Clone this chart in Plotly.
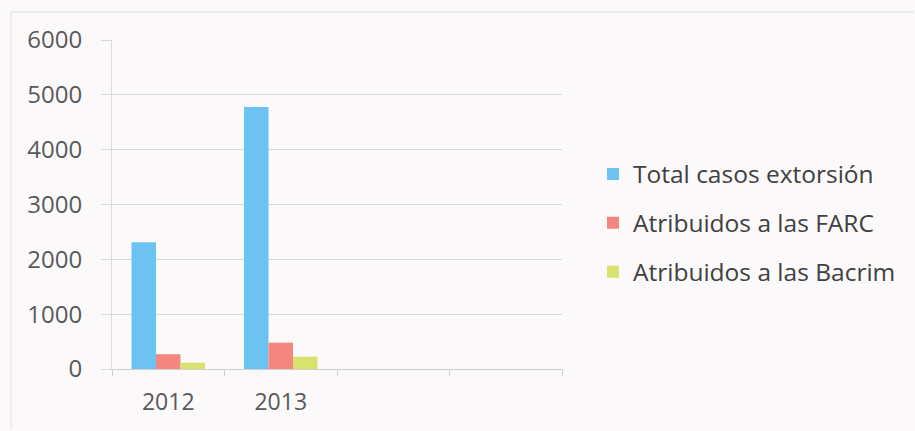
import plotly.graph_objects as go

categories = ["2012", "2013", " ", "  "]
series_names = ["Total casos extorsión", "Atribuidos a las FARC", "Atribuidos a las Bacrim"]
total = [2310, 4780, None, None]
farc = [270, 480, None, None]
bacrim = [115, 225, None, None]
colors = ["#6cc3f2", "#f3877f", "#d9e26e"]
y_ticks = [0, 1000, 2000, 3000, 4000, 5000, 6000]

FONT = "Open Sans"
W, H = 915, 431
L, R, T, B = 112, 353, 40, 62
pw, ph = W - L - R, H - T - B

fig = go.Figure()
for name, vals, col in zip(series_names, [total, farc, bacrim], colors):
    fig.add_trace(go.Bar(x=categories, y=vals, name=name, marker=dict(color=col, line=dict(width=0)),
                         legendgroup=name))

def px_x(p):
    return (p - L) / pw

def px_y(p):
    return (H - B - p) / ph

fig.update_layout(
    width=W, height=H,
    margin=dict(l=L, r=R, t=T, b=B, autoexpand=False),
    paper_bgcolor="#fcf9fb",
    plot_bgcolor="#fcf9fb",
    barmode="group",
    bargap=0.347,
    bargroupgap=0,
    font=dict(family=FONT, color="#595959", size=23),
    legend=dict(
        x=px_x(593), xanchor="left",
        y=px_y(223), yanchor="middle",
        font=dict(family=FONT, size=24.5, color="#404040"),
        tracegroupgap=14,
        bgcolor="rgba(0,0,0,0)",
    ),
    xaxis=dict(
        type="category",
        categoryorder="array", categoryarray=categories,
        range=[-0.5, 3.5],
        showgrid=False,
        showline=True, linecolor="#cfcfcf", linewidth=1,
        ticks="outside", tickson="boundaries", ticklen=6, tickcolor="#cfcfcf",
        tickfont=dict(family=FONT, size=23, color="#595959"),
        ticklabelstandoff=12,
        zeroline=False,
    ),
    yaxis=dict(
        range=[0, 6000],
        tickvals=y_ticks,
        showgrid=True, gridcolor="#d9d9d9", gridwidth=1,
        showline=True, linecolor="#dcdcdc", linewidth=1,
        ticks="outside", ticklen=10, tickcolor="#d9d9d9",
        tickfont=dict(family=FONT, size=24, color="#595959"),
        ticklabelstandoff=14,
        zeroline=False,
    ),
    shapes=[
        dict(type="line", xref="paper", yref="paper", x0=px_x(11), x1=px_x(W - 1), y0=px_y(12), y1=px_y(12),
             line=dict(color="#dddddd", width=1)),
        dict(type="line", xref="paper", yref="paper", x0=px_x(11), x1=px_x(11), y0=px_y(12), y1=px_y(H - 1),
             line=dict(color="#e2e2e2", width=1)),
    ],
)

fig.write_html("out.html", config={"displayModeBar": False},
               post_script="document.body.style.margin='0';document.body.style.overflow='hidden';")
